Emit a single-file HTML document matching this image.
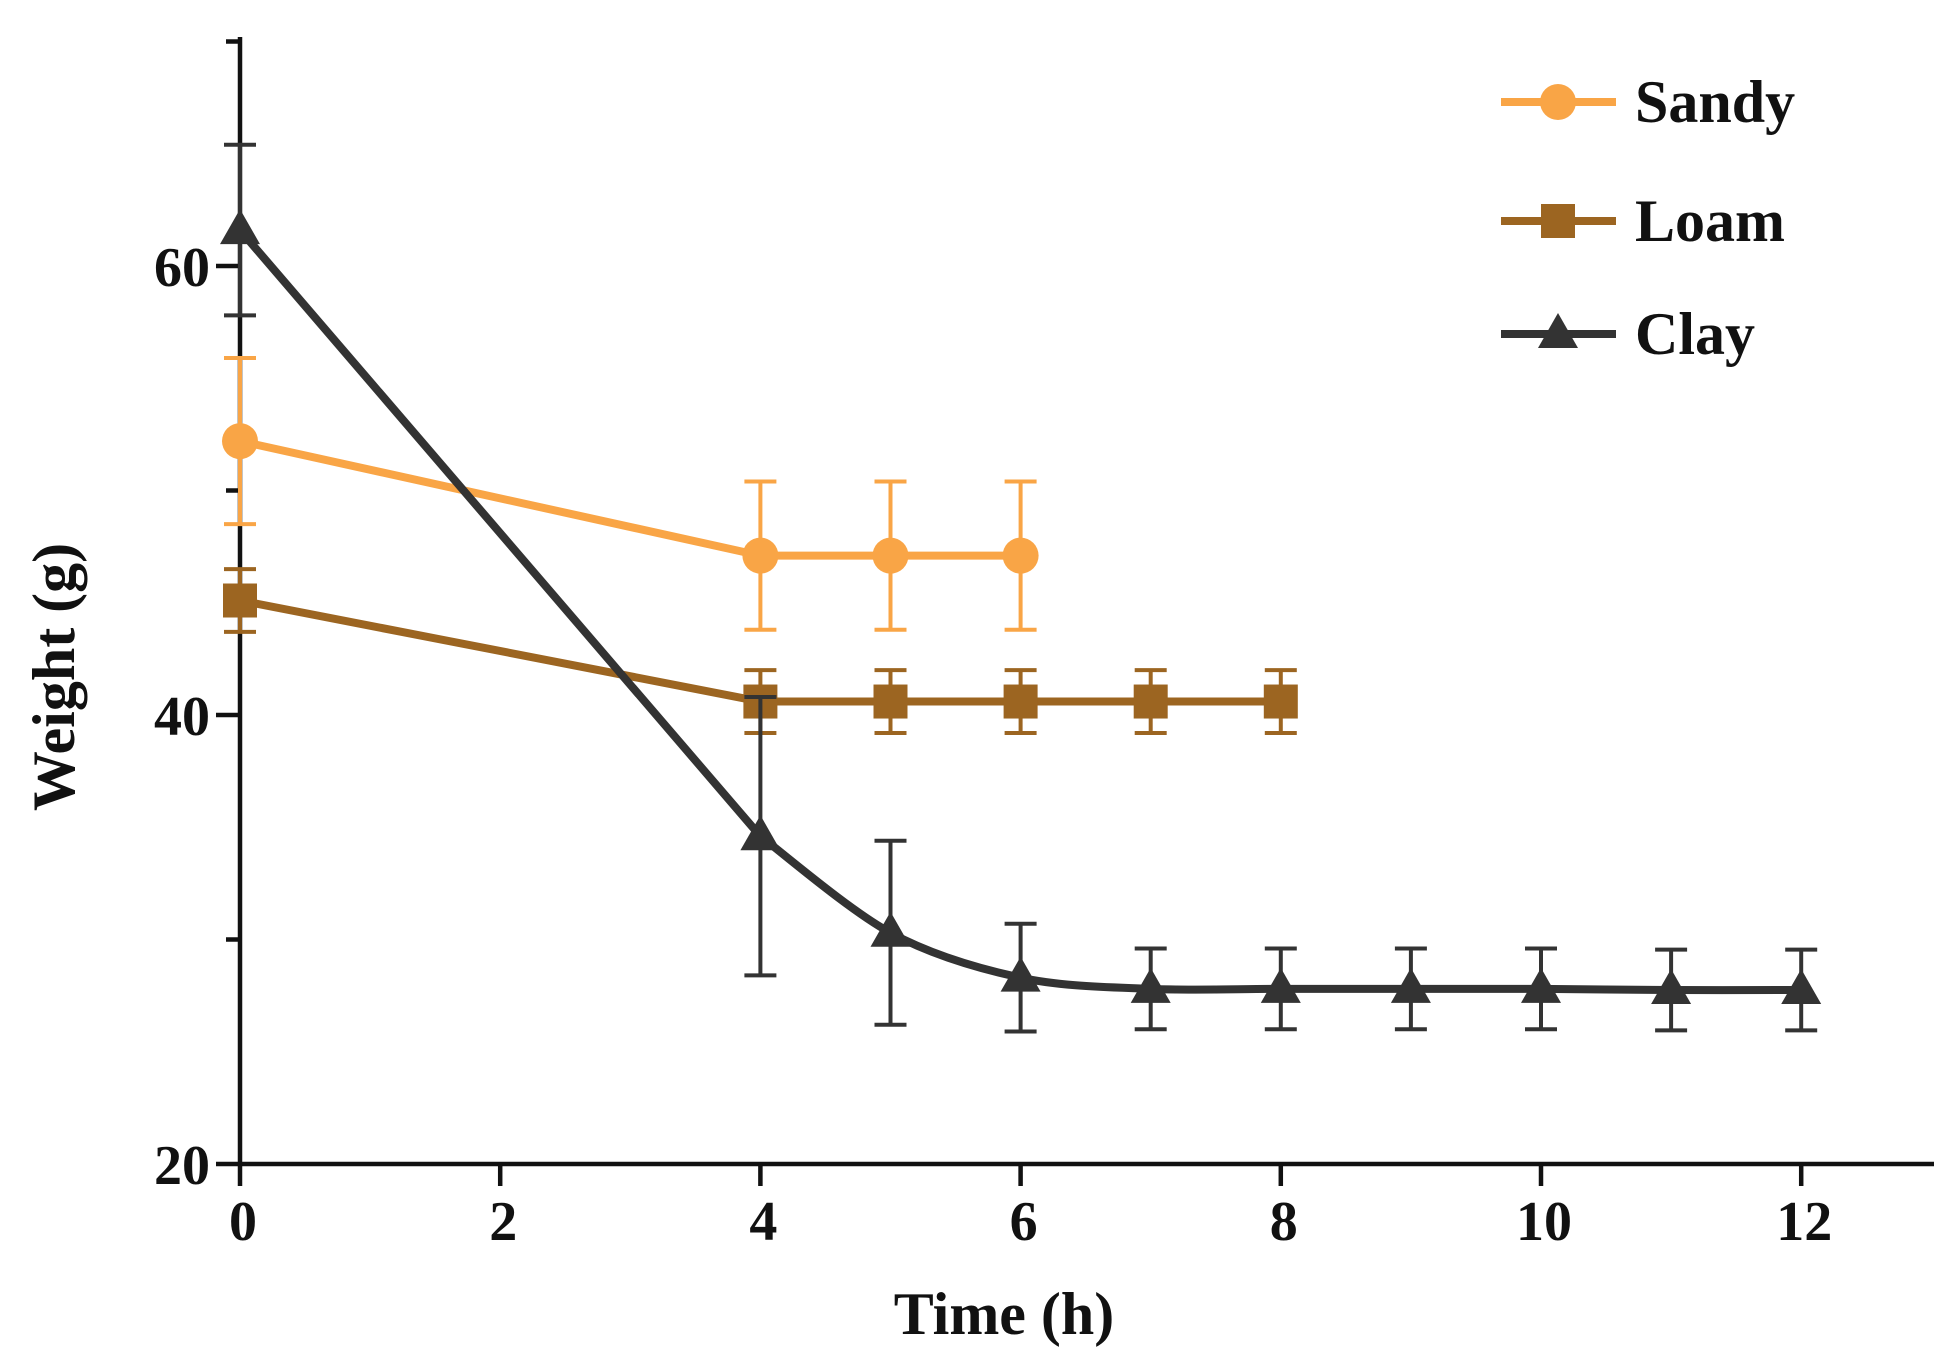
<!DOCTYPE html>
<html><head><meta charset="utf-8"><style>
html,body{margin:0;padding:0;background:#fff;}
svg{display:block;}
text{font-family:"Liberation Serif",serif;font-weight:bold;fill:#111;}
</style></head><body>
<svg id="chart" width="1957" height="1371" viewBox="0 0 1957 1371" xmlns="http://www.w3.org/2000/svg"></svg>
<script>
const xTicks = [0, 2, 4, 6, 8, 10, 12];
const yTicks = [20, 40, 60];
const yMinor = [30, 50, 70];
const sandyX = [0, 4, 5, 6];
const sandyY = [52.2, 47.1, 47.1, 47.1];
const sandyErr = [3.7, 3.3, 3.3, 3.3];
const loamX = [0, 4, 5, 6, 7, 8];
const loamY = [45.1, 40.6, 40.6, 40.6, 40.6, 40.6];
const loamErr = [1.4, 1.4, 1.4, 1.4, 1.4, 1.4];
const clayX = [0, 4, 5, 6, 7, 8, 9, 10, 11, 12];
const clayY = [61.6, 34.6, 30.3, 28.3, 27.8, 27.8, 27.8, 27.8, 27.75, 27.75];
const clayErr = [3.8, 6.2, 4.1, 2.4, 1.8, 1.8, 1.8, 1.8, 1.8, 1.8];

const NS = "http://www.w3.org/2000/svg";
const svg = document.getElementById('chart');
const X0 = 240, XU = 130.1, Y20 = 1164, YU = 22.45;
const xs = v => X0 + v * XU;
const ys = v => Y20 - (v - 20) * YU;
function mk(tag, attrs, parent) {
  const e = document.createElementNS(NS, tag);
  for (const k in attrs) e.setAttribute(k, attrs[k]);
  (parent || svg).appendChild(e);
  return e;
}
const axes = mk('g', {});


mk('line', {x1: X0, y1: 37, x2: X0, y2: Y20, stroke: '#111', 'stroke-width': 4.5}, axes);
mk('line', {x1: X0, y1: Y20, x2: 1934, y2: Y20, stroke: '#111', 'stroke-width': 4.5}, axes);
yTicks.forEach(v => {
  mk('line', {x1: X0 - 24, y1: ys(v), x2: X0, y2: ys(v), stroke: '#111', 'stroke-width': 4.5}, axes);
  const t = mk('text', {x: X0 - 30, y: ys(v) + 20, 'text-anchor': 'end', 'font-size': 56}, axes);
  t.textContent = v;
  
  
});
yMinor.forEach(v => {
  mk('line', {x1: X0 - 14, y1: ys(v), x2: X0, y2: ys(v), stroke: '#111', 'stroke-width': 4.5}, axes);
});
xTicks.forEach(v => {
  mk('line', {x1: xs(v), y1: Y20, x2: xs(v), y2: Y20 + 22, stroke: '#111', 'stroke-width': 4.5}, axes);
  const t = mk('text', {x: xs(v) + 3, y: Y20 + 76, 'text-anchor': 'middle', 'font-size': 56}, axes);
  t.textContent = v;
  
  
});
const xt = mk('text', {x: 1004, y: 1334, 'text-anchor': 'middle', 'font-size': 60});
xt.textContent = 'Time (h)';


const yt = mk('text', {x: 0, y: 0, 'text-anchor': 'middle', 'font-size': 60, transform: 'translate(74,677) rotate(-90)'});
yt.textContent = 'Weight (g)';



function marker(shape, cx, cy, color, parent) {
  if (shape === 'circle') return mk('circle', {cx, cy, r: 18, fill: color}, parent);
  if (shape === 'square') return mk('rect', {x: cx - 17, y: cy - 17, width: 34, height: 34, fill: color}, parent);
  return mk('polygon', {points: `${cx},${cy - 21} ${cx + 20},${cy + 14} ${cx - 20},${cy + 14}`, fill: color}, parent);
}
function series(name, xsArr, ysArr, errArr, color, shape, smooth) {
  const g = mk('g', {});
  
  
  xsArr.forEach((x, i) => {
    const cx = xs(x), t = ys(ysArr[i] + errArr[i]), b = ys(ysArr[i] - errArr[i]);
    mk('line', {x1: cx, y1: t, x2: cx, y2: b, stroke: color, 'stroke-width': 4}, g);
    mk('line', {x1: cx - 16, y1: t, x2: cx + 16, y2: t, stroke: color, 'stroke-width': 4}, g);
    mk('line', {x1: cx - 16, y1: b, x2: cx + 16, y2: b, stroke: color, 'stroke-width': 4}, g);
  });
  const pts = xsArr.map((x, i) => [xs(x), ys(ysArr[i])]);
  let d = 'M' + pts[0][0] + ',' + pts[0][1];
  if (smooth) {
    d += ' L' + pts[1][0] + ',' + pts[1][1];
    for (let i = 1; i < pts.length - 1; i++) {
      const p0 = i === 1 ? pts[1] : pts[i - 1], p1 = pts[i], p2 = pts[i + 1], p3 = pts[Math.min(pts.length - 1, i + 2)];
      const c1 = [p1[0] + (p2[0] - p0[0]) * 0.16, p1[1] + (p2[1] - p0[1]) * 0.16];
      const c2 = [p2[0] - (p3[0] - p1[0]) * 0.16, p2[1] - (p3[1] - p1[1]) * 0.16];
      d += ` C${c1[0]},${c1[1]} ${c2[0]},${c2[1]} ${p2[0]},${p2[1]}`;
    }
  } else {
    for (let i = 1; i < pts.length; i++) d += ' L' + pts[i][0] + ',' + pts[i][1];
  }
  mk('path', {d, fill: 'none', stroke: color, 'stroke-width': 8, 'stroke-linejoin': 'round'}, g);
  pts.forEach(p => {
    const m = marker(shape, p[0], p[1], color, g);
    
    
  });
}
series('loam', loamX, loamY, loamErr, '#9C6521', 'square', false);
series('sandy', sandyX, sandyY, sandyErr, '#F9A546', 'circle', false);
series('clay', clayX, clayY, clayErr, '#333333', 'triangle', true);

const legendItems = [['Sandy', '#F9A546', 'circle', 102], ['Loam', '#9C6521', 'square', 221], ['Clay', '#333333', 'triangle', 334]];
const lg = mk('g', {});


legendItems.forEach(([label, color, shape, y]) => {
  const e = mk('g', {}, lg);
  
  
  mk('line', {x1: 1501, y1: y, x2: 1616, y2: y, stroke: color, 'stroke-width': 8}, e);
  marker(shape, 1558, y, color, e);
  const t = mk('text', {x: 1635, y: y + 20, 'font-size': 60}, e);
  t.textContent = label;
});
</script>
</body></html>
